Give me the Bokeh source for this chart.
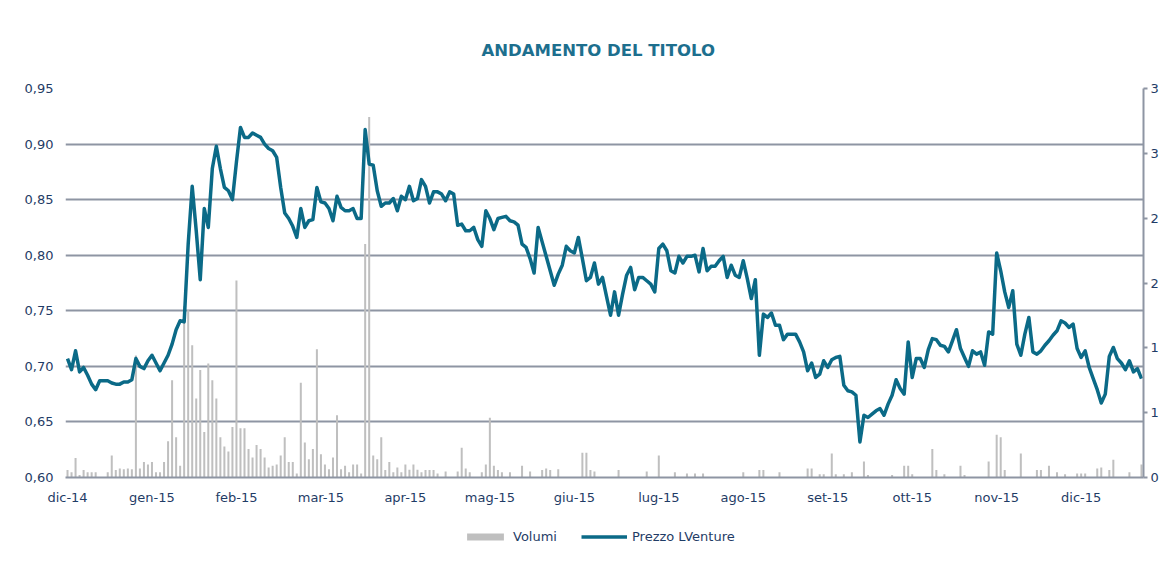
from bokeh.plotting import figure
from bokeh.layouts import column
from bokeh.models import (Range1d, LinearAxis, FixedTicker, CustomJSTickFormatter,
                          Legend, LegendItem)
from bokeh.embed import file_html
from bokeh.resources import INLINE

title_text = "ANDAMENTO DEL TITOLO"
month_labels = ["dic-14", "gen-15", "feb-15", "mar-15", "apr-15", "mag-15", "giu-15",
                "lug-15", "ago-15", "set-15", "ott-15", "nov-15", "dic-15"]
price_ticks = [0.60, 0.65, 0.70, 0.75, 0.80, 0.85, 0.90, 0.95]
volume_ticks = [0, 0.5, 1, 1.5, 2, 2.5, 3]
series_names = ["Volumi", "Prezzo LVenture"]

# Prezzo LVenture (EUR), one value per trading day
price = [
    0.707, 0.697, 0.714, 0.695, 0.699, 0.692, 0.684, 0.679, 0.687, 0.687, 0.687, 0.685, 0.684, 0.684, 0.686, 0.686, 0.688,
    0.707, 0.700, 0.698, 0.705, 0.710, 0.703, 0.696, 0.703, 0.710, 0.720, 0.733, 0.741, 0.740,
    0.810, 0.862, 0.822, 0.778, 0.842, 0.825, 0.878, 0.898, 0.878, 0.861, 0.858, 0.850, 0.884, 0.915,
    0.906, 0.906, 0.910, 0.908, 0.906, 0.900, 0.896, 0.894, 0.888, 0.861, 0.838, 0.833,
    0.826, 0.816, 0.842, 0.825, 0.831, 0.832, 0.861, 0.848, 0.847, 0.842, 0.831, 0.853, 0.843, 0.840, 0.840, 0.842, 0.833, 0.833,
    0.913, 0.882, 0.881, 0.858, 0.844, 0.847, 0.847, 0.851, 0.840, 0.853, 0.850, 0.862, 0.849, 0.851, 0.868, 0.862, 0.847, 0.857, 0.857,
    0.855, 0.849, 0.857, 0.855, 0.827, 0.828, 0.822, 0.822, 0.825, 0.814, 0.808, 0.840, 0.833, 0.823, 0.833, 0.834, 0.835, 0.831, 0.830, 0.827, 0.810, 0.807, 0.797, 0.784,
    0.825, 0.812, 0.799, 0.786, 0.773, 0.783, 0.791, 0.808, 0.804, 0.802, 0.816, 0.797, 0.777, 0.780, 0.793, 0.774, 0.780,
    0.763, 0.746, 0.767, 0.746, 0.765, 0.782, 0.789, 0.769, 0.780, 0.780, 0.777, 0.774, 0.767,
    0.806, 0.810, 0.804, 0.786, 0.784, 0.799, 0.793, 0.799, 0.799, 0.800, 0.785, 0.806, 0.786, 0.790, 0.790, 0.795, 0.799, 0.780, 0.791, 0.782, 0.780, 0.795, 0.779, 0.761, 0.778,
    0.710, 0.747, 0.744, 0.748, 0.737, 0.737, 0.724, 0.729, 0.729, 0.729, 0.722, 0.713, 0.696, 0.703, 0.690, 0.693, 0.705,
    0.699, 0.706, 0.708, 0.709, 0.683, 0.678, 0.677,
    0.674, 0.632, 0.656, 0.654, 0.657, 0.660, 0.662, 0.656, 0.666, 0.674, 0.688, 0.680, 0.675, 0.722, 0.690, 0.707, 0.707, 0.699, 0.715, 0.725,
    0.724, 0.719, 0.718, 0.713, 0.723, 0.733, 0.716, 0.708, 0.700, 0.714, 0.711, 0.713, 0.701, 0.731, 0.729,
    0.802, 0.786, 0.767, 0.753, 0.768, 0.720, 0.710, 0.729, 0.744, 0.713, 0.711, 0.714, 0.719, 0.723, 0.728, 0.732, 0.741, 0.739, 0.735, 0.738,
    0.716, 0.708, 0.714, 0.699, 0.689, 0.679, 0.667, 0.675, 0.709, 0.717, 0.707, 0.703, 0.697, 0.705, 0.695, 0.698, 0.689,
]

# Volumi (millions of shares), one value per trading day
volume = [
    0.057, 0.04, 0.15, 0.02, 0.057, 0.04, 0.04, 0.04, 0.0, 0.0, 0.04, 0.17, 0.057, 0.07, 0.064, 0.07, 0.064, 0.94, 0.07, 0.12,
    0.10, 0.12, 0.04, 0.04, 0.12, 0.28, 0.75, 0.31, 0.09,
    1.32, 1.29, 1.02, 0.61, 0.83, 0.35, 0.88, 0.75, 0.61, 0.31, 0.24, 0.20, 0.39, 1.52,
    0.38, 0.38, 0.22, 0.155, 0.25, 0.22, 0.155, 0.077, 0.09, 0.10, 0.17, 0.31, 0.12, 0.12, 0.03, 0.73, 0.27, 0.14, 0.22, 0.99,
    0.18, 0.10, 0.064, 0.155, 0.48, 0.064, 0.09, 0.04, 0.10, 0.10, 0.03, 1.80, 2.78, 0.17, 0.14, 0.31, 0.057, 0.12, 0.04, 0.077,
    0.04, 0.10, 0.06, 0.10, 0.06, 0.04, 0.057, 0.057, 0.057, 0.03,
    0.0, 0.046, 0.0, 0.0, 0.046, 0.23, 0.07, 0.04, 0.0, 0.0, 0.04, 0.10, 0.46, 0.09, 0.057, 0.04, 0.0, 0.04, 0.0, 0.0,
    0.09, 0.0, 0.046, 0.0, 0.0, 0.057, 0.07, 0.057, 0.0, 0.064, 0.0, 0.0, 0.0, 0.0, 0.0, 0.19, 0.19, 0.057, 0.046, 0.0,
    0.0, 0.0, 0.0, 0.0, 0.057, 0.0, 0.0, 0.0, 0.0, 0.0, 0.0, 0.046, 0.0, 0.0, 0.17, 0.0, 0.0, 0.0, 0.04, 0.0,
    0.0, 0.03, 0.0, 0.03, 0.0, 0.03, 0.0, 0.0, 0.0, 0.0, 0.0, 0.0, 0.0, 0.0, 0.0, 0.04, 0.0, 0.0, 0.0, 0.057,
    0.057, 0.0, 0.0, 0.0, 0.04, 0.0, 0.0, 0.0, 0.0, 0.0, 0.0, 0.07, 0.07, 0.0, 0.025, 0.025, 0.0, 0.185, 0.025, 0.0,
    0.025, 0.0, 0.04, 0.0, 0.0, 0.124, 0.02, 0.0, 0.0, 0.0, 0.0, 0.0, 0.02, 0.0, 0.0, 0.09, 0.09, 0.025, 0.0, 0.0,
    0.0, 0.0, 0.22, 0.057, 0.0, 0.025, 0.0, 0.0, 0.0, 0.09, 0.02, 0.0, 0.0, 0.0, 0.0, 0.0, 0.124, 0.0, 0.33, 0.31,
    0.057, 0.0, 0.0, 0.0, 0.185, 0.0, 0.0, 0.0, 0.057, 0.057, 0.0, 0.09, 0.0, 0.04, 0.0, 0.025, 0.0, 0.0, 0.03, 0.03,
    0.03, 0.0, 0.0, 0.07, 0.077, 0.0, 0.057, 0.137, 0.0, 0.0, 0.0, 0.04, 0.0, 0.0, 0.10,
]

N = min(len(price), len(volume))
price = price[:N]
volume = volume[:N]
xs = list(range(N))

FONT = "DejaVu Sans"
TXT = "#1F3C66"
GRID = "#8E95A3"
LINE = "#0B6A87"
BAR = "#BFBFBF"
W = 1165

p = figure(width=W, height=512, output_backend="svg", toolbar_location=None,
           x_range=Range1d(-0.5, N - 0.5), y_range=Range1d(0.60, 0.95),
           min_border_left=65, min_border_right=22, min_border_top=88, min_border_bottom=35,
           title=title_text)
p.outline_line_color = None
p.background_fill_color = "white"
p.border_fill_color = "white"

p.title.align = "left"
p.title.offset = 416
p.title.standoff = 57
p.title.text_font = FONT
p.title.text_font_style = "bold"
p.title.text_font_size = "16.5px"
p.title.text_color = "#1D6F8E"

p.extra_y_ranges = {"vol": Range1d(0, 3)}

bars = p.vbar(x=xs, top=volume, width=0.5, y_range_name="vol",
              fill_color=BAR, line_color=None)
ln = p.line(xs, price, line_color=LINE, line_width=3.5, line_join="round")

# Left axis (prices)
ya = p.yaxis[0]
ya.ticker = FixedTicker(ticks=price_ticks)
ya.formatter = CustomJSTickFormatter(code="return tick.toFixed(2).replace('.', ',');")
ya.axis_line_color = None
ya.major_tick_line_color = None
ya.major_tick_out = 0
ya.major_tick_in = 0
ya.minor_tick_line_color = None
ya.major_label_standoff = 12
ya.major_label_text_font = FONT
ya.major_label_text_font_size = "13px"
ya.major_label_text_color = TXT

# Right axis (volumes)
ra = LinearAxis(y_range_name="vol", ticker=FixedTicker(ticks=volume_ticks),
                formatter=CustomJSTickFormatter(code="return Math.round(tick).toString();"))
ra.axis_line_color = GRID
ra.axis_line_width = 2
ra.major_tick_line_color = GRID
ra.major_tick_line_width = 2
ra.major_tick_in = 0
ra.major_tick_out = 4
ra.minor_tick_line_color = None
ra.major_label_standoff = 3
ra.major_label_text_font = FONT
ra.major_label_text_font_size = "13px"
ra.major_label_text_color = TXT
p.add_layout(ra, "right")

# Bottom axis (months)
xa = p.xaxis[0]
xa.ticker = FixedTicker(ticks=[21 * k for k in range(len(month_labels))])
xa.major_label_overrides = {21 * k: lab for k, lab in enumerate(month_labels)}
xa.axis_line_color = GRID
xa.axis_line_width = 2
xa.major_tick_line_color = None
xa.major_tick_out = 0
xa.major_tick_in = 0
xa.minor_tick_line_color = None
xa.major_label_standoff = 12
xa.major_label_text_font = FONT
xa.major_label_text_font_size = "13px"
xa.major_label_text_color = TXT

p.xgrid.visible = False
p.ygrid.ticker = FixedTicker(ticks=price_ticks)
p.ygrid.grid_line_color = GRID
p.ygrid.grid_line_width = 1.8

# Legend strip (separate small figure beneath the chart); its glyphs have zero size
lg = figure(width=W, height=41, output_backend="svg", toolbar_location=None,
            x_range=Range1d(0, 1), y_range=Range1d(0, 1),
            x_axis_type=None, y_axis_type=None,
            min_border_left=0, min_border_right=0, min_border_top=0, min_border_bottom=0)
lg.outline_line_color = None
lg.xgrid.visible = False
lg.ygrid.visible = False
lg_bar = lg.vbar(x=[0.5], top=[0.5], bottom=[0.5], width=0.0, fill_color=BAR, line_color=None)
lg_line = lg.line(x=[0.5, 0.5], y=[0.5, 0.5], line_color=LINE, line_width=3.5)
legend = Legend(items=[LegendItem(label=series_names[0], renderers=[lg_bar]),
                       LegendItem(label=series_names[1], renderers=[lg_line])],
                orientation="horizontal", location=(397, 9),
                glyph_width=46, glyph_height=9, label_height=9, label_standoff=5, spacing=24,
                label_text_font=FONT, label_text_font_size="13px", label_text_color=TXT,
                border_line_color=None, background_fill_alpha=0, padding=4, margin=0)
lg.add_layout(legend)

layout = column(p, lg, spacing=0)
open("out.html", "w").write(file_html(layout, INLINE))
